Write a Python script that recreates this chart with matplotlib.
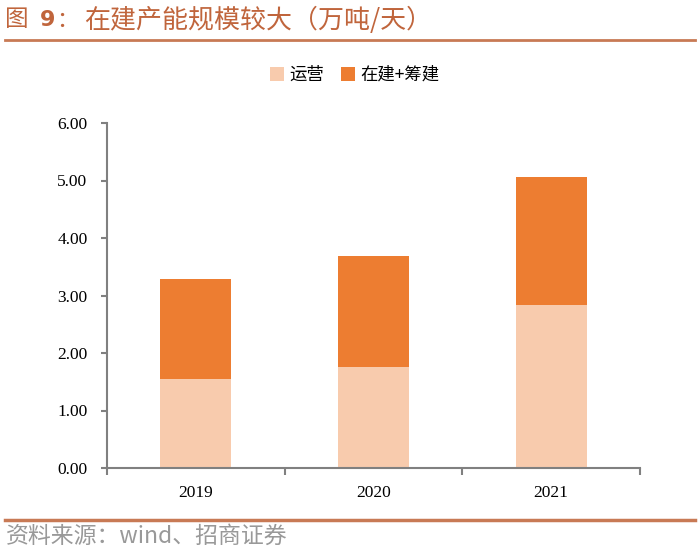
import matplotlib
matplotlib.use("Agg")
import matplotlib.pyplot as plt
from matplotlib.lines import Line2D
from matplotlib.patches import Patch

years = ["2019", "2020", "2021"]
operating = [1.55, 1.75, 2.83]
building = [1.74, 1.94, 2.23]
yticks = [0, 1, 2, 3, 4, 5, 6]
series_names = ["运营", "在建+筹建"]
colors = ["#F8CBAD", "#ED7D31"]

cjk = ["Noto Sans CJK SC", "DejaVu Sans"]
serif = ["Liberation Serif", "DejaVu Serif"]

fig = plt.figure(figsize=(7, 5.5), dpi=100)
ax = fig.add_axes([107/700, 1-468/550, (640-107)/700, (468-123)/550])

x = list(range(len(years)))
ax.bar(x, operating, width=0.4, color=colors[0], label=series_names[0], zorder=2)
ax.bar(x, building, width=0.4, bottom=operating, color=colors[1], label=series_names[1], zorder=2)

ax.set_xlim(-0.5, 2.5)
ax.set_ylim(0, 6)
ax.set_yticks(yticks)
ax.set_yticklabels([f"{v:.2f}" for v in yticks], fontfamily=serif, fontsize=12.5)
ax.set_xticks(x)
ax.set_xticklabels(years, fontfamily=serif, fontsize=12.5)
ax.tick_params(axis="x", length=0, pad=12)
ax.set_xticks([-0.5, 0.5, 1.5, 2.5], minor=True)
ax.tick_params(axis="x", which="minor", length=5, width=1.5, color="#808080", direction="out")
ax.tick_params(axis="y", length=4, width=1.5, color="#808080", direction="out", pad=10)
for s in ["top", "right"]:
    ax.spines[s].set_visible(False)
for s in ["left", "bottom"]:
    ax.spines[s].set_color("#808080")
    ax.spines[s].set_linewidth(1.5)

handles = [Patch(facecolor=c, edgecolor="none") for c in colors]
fig.legend(handles, series_names, loc="center", bbox_to_anchor=(355/700, 1-75/550),
           ncol=2, frameon=False, prop={"family": cjk, "size": 12.5},
           handlelength=0.8, handleheight=0.8, handletextpad=0.3, columnspacing=1.0)

# title
tcol = "#C0653C"
ty = 1 - 20/550
fig.text(5/700, ty, "图", fontfamily=cjk, fontsize=17, color=tcol, ha="left", va="center")
fig.text(40/700, ty, "9", fontfamily=["DejaVu Sans"], fontweight="bold", fontsize=16,
         color=tcol, ha="left", va="center")
fig.text(56/700, ty, "：", fontfamily=cjk, fontsize=16, color=tcol, ha="left", va="center")
fig.text(84/700, ty, "在建产能规模较大（万吨/天）", fontfamily=cjk, fontsize=18.7,
         color=tcol, ha="left", va="center")
fig.add_artist(Line2D([5/700, 695/700], [1-40/550, 1-40/550], color="#C87A55", lw=2))
# footer
fig.add_artist(Line2D([5/700, 695/700], [1-520/550, 1-520/550], color="#C87A55", lw=2.5))
fig.text(6/700, 1-536/550, "资料来源：wind、招商证券", fontfamily=cjk, fontweight="light",
         fontsize=16.5, color="#999999", ha="left", va="center")

fig.savefig("out.png", dpi=100)
